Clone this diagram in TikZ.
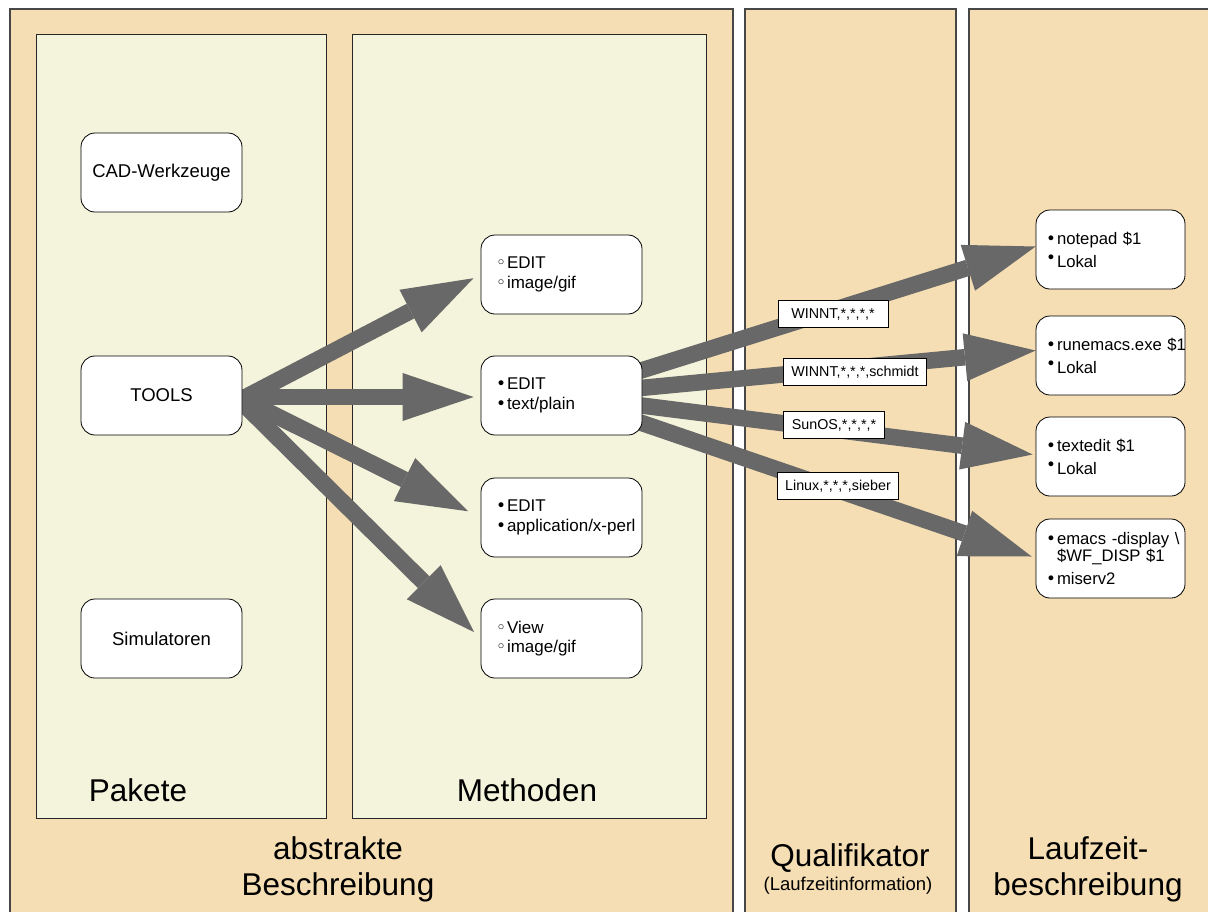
\documentclass[tikz,border=0pt]{standalone}
\usepackage{fontspec}
\setmainfont{Liberation Sans}
\newfontfamily\dejavu{DejaVu Sans}
\usetikzlibrary{arrows.meta}
\definecolor{wheatc}{RGB}{245,222,179}
\definecolor{beigec}{RGB}{244,244,220}
\definecolor{arrowc}{RGB}{104,104,104}
\pgfdeclarelayer{panels}
\pgfdeclarelayer{arrowlayer}
\pgfsetlayers{panels,arrowlayer,main}
\newcommand\hbul{\makebox[11pt][l]{\dejavu ◦}}
\newcommand\fbul{\makebox[11pt][l]{\dejavu •}}
\newcommand\rbul{\makebox[11pt][l]{\raisebox{4pt}{\dejavu •}}}
\tikzset{
 panel/.style={draw=black!72, line width=1.1pt, fill=wheatc},
 subpanel/.style={draw=black!85, line width=1pt, fill=beigec},
 pbox/.style={draw=black, line width=0.8pt, fill=white, rounded corners=14pt,
   minimum width=161pt, minimum height=79pt, inner sep=0pt,
   font=\fontsize{18.5}{22}\selectfont},
 mbox/.style={draw=black, line width=0.8pt, fill=white, rounded corners=14pt,
   minimum width=161pt, minimum height=79pt, inner xsep=15pt, inner ysep=0pt,
   text width=131pt, align=left, font=\fontsize{17}{19.5}\selectfont},
 rbox/.style={draw=black, line width=0.8pt, fill=white, rounded corners=14pt,
   minimum width=149pt, minimum height=79pt, inner xsep=10pt, inner ysep=0pt,
   text width=129pt, align=left, font=\fontsize{16.7}{17}\selectfont},
 lbl/.style={draw=black, line width=0.8pt, fill=white, inner xsep=8pt, inner ysep=0pt,
   minimum height=27pt, font=\fontsize{14.3}{16}\selectfont},
 bigtext/.style={font=\fontsize{31.5}{36}\selectfont, anchor=base, inner sep=0pt},
 smalltext/.style={font=\fontsize{18.5}{22}\selectfont, anchor=base, inner sep=0pt},
 bigarrow/.style={draw=arrowc, line width=16.5pt,
   -{Triangle[length=71pt,width=48pt,line width=0pt]}},
}
\begin{document}
\begin{tikzpicture}[x=1pt,y=-1pt]
\useasboundingbox (0,0) rectangle (1208,911);
\clip (0,0) rectangle (1208,911);
\begin{pgfonlayer}{panels}
\fill[white] (0,0) rectangle (1208,911);
\draw[panel] (10,9) rectangle (733,925);
\draw[panel] (745,9) rectangle (956,925);
\draw[panel] (969,9) rectangle (1225,925);
\draw[subpanel] (36,34) rectangle (326,818);
\draw[subpanel] (352,34) rectangle (706,818);
\end{pgfonlayer}

% Pakete
\node[pbox] (cad)   at (161.5,172.5) {CAD-Werkzeuge};
\node[pbox] (tools) at (161.5,395.5) {TOOLS};
\node[pbox] (sim)   at (161.5,638.5) {Simulatoren};

% Methoden
\node[mbox] (m1) at (561.5,274.5) {\mbox{\hbul EDIT}\\\mbox{\hbul image/gif}};
\node[mbox] (m2) at (561.5,395.5) {\mbox{\fbul EDIT}\\\mbox{\fbul text/plain}};
\node[mbox] (m3) at (561.5,517.5) {\mbox{\fbul EDIT}\\\mbox{\fbul application/x-perl}};
\node[mbox] (m4) at (561.5,638.5) {\mbox{\hbul View}\\\mbox{\hbul image/gif}};

% Laufzeitbeschreibung
\node[rbox] (r1) at (1110.5,249.5) {\mbox{\fbul notepad \$1}\\[6pt]\mbox{\rbul Lokal}};
\node[rbox] (r2) at (1110.5,355.5) {\mbox{\fbul runemacs.exe \$1}\\[6pt]\mbox{\rbul Lokal}};
\node[rbox] (r3) at (1110.5,456.5) {\mbox{\fbul textedit \$1}\\[6pt]\mbox{\rbul Lokal}};
\node[rbox] (r4) at (1110.5,558.5) {\mbox{\fbul emacs -display \textbackslash}\\\mbox{\hspace*{11pt}\$WF\_DISP \$1}\\[6pt]\mbox{\fbul miserv2}};

% section titles
\node[bigtext] (pak)  at (138,801.5) {Pakete};
\node[bigtext] (meth) at (527,801.5) {Methoden};
\node[bigtext] (abs1) at (338,859.5) {abstrakte};
\node[bigtext] (abs2) at (338,895.5) {Beschreibung};
\node[bigtext] (qual) at (850,866.5) {Qualifikator};
\node[smalltext] (lzi) at (848,890.5) {(Laufzeitinformation)};
\node[bigtext] (lz1)  at (1088,859.5) {Laufzeit-};
\node[bigtext] (lz2)  at (1088,895.5) {beschreibung};

% arrows
\begin{pgfonlayer}{arrowlayer}
\draw[bigarrow, shorten >=8pt]  ([xshift=-10pt,yshift=-8.5pt]tools.east) -- (m1.west);
\draw[bigarrow, shorten >=7pt]  ([xshift=-10pt,yshift=-1.5pt]tools.east) -- ([yshift=-1.5pt]m2.west);
\draw[bigarrow, shorten >=14pt] ([xshift=-10pt,yshift=1.5pt]tools.east) -- (m3.west);
\draw[bigarrow, shorten >=9pt]  ([xshift=-10pt,yshift=2.5pt]tools.east) -- (m4.west);
\draw[bigarrow] (m2.center) -- ([yshift=3pt]r1.west);
\draw[bigarrow] (m2.center) -- ([yshift=5pt]r2.west);
\draw[bigarrow] (m2.center) -- ([xshift=-3pt,yshift=2pt]r3.west);
\draw[bigarrow] (m2.center) -- ([xshift=-4pt,yshift=2pt]r4.west);
\end{pgfonlayer}

% qualifier labels
\node[lbl, minimum width=110pt] (l1) at (833,314) {WINNT,*,*,*,*};
\node[lbl] (l2) at (855,372) {WINNT,*,*,*,schmidt};
\node[lbl] (l3) at (834,425) {SunOS,*,*,*,*};
\node[lbl] (l4) at (838,486) {Linux,*,*,*,sieber};
\end{tikzpicture}
\end{document}
